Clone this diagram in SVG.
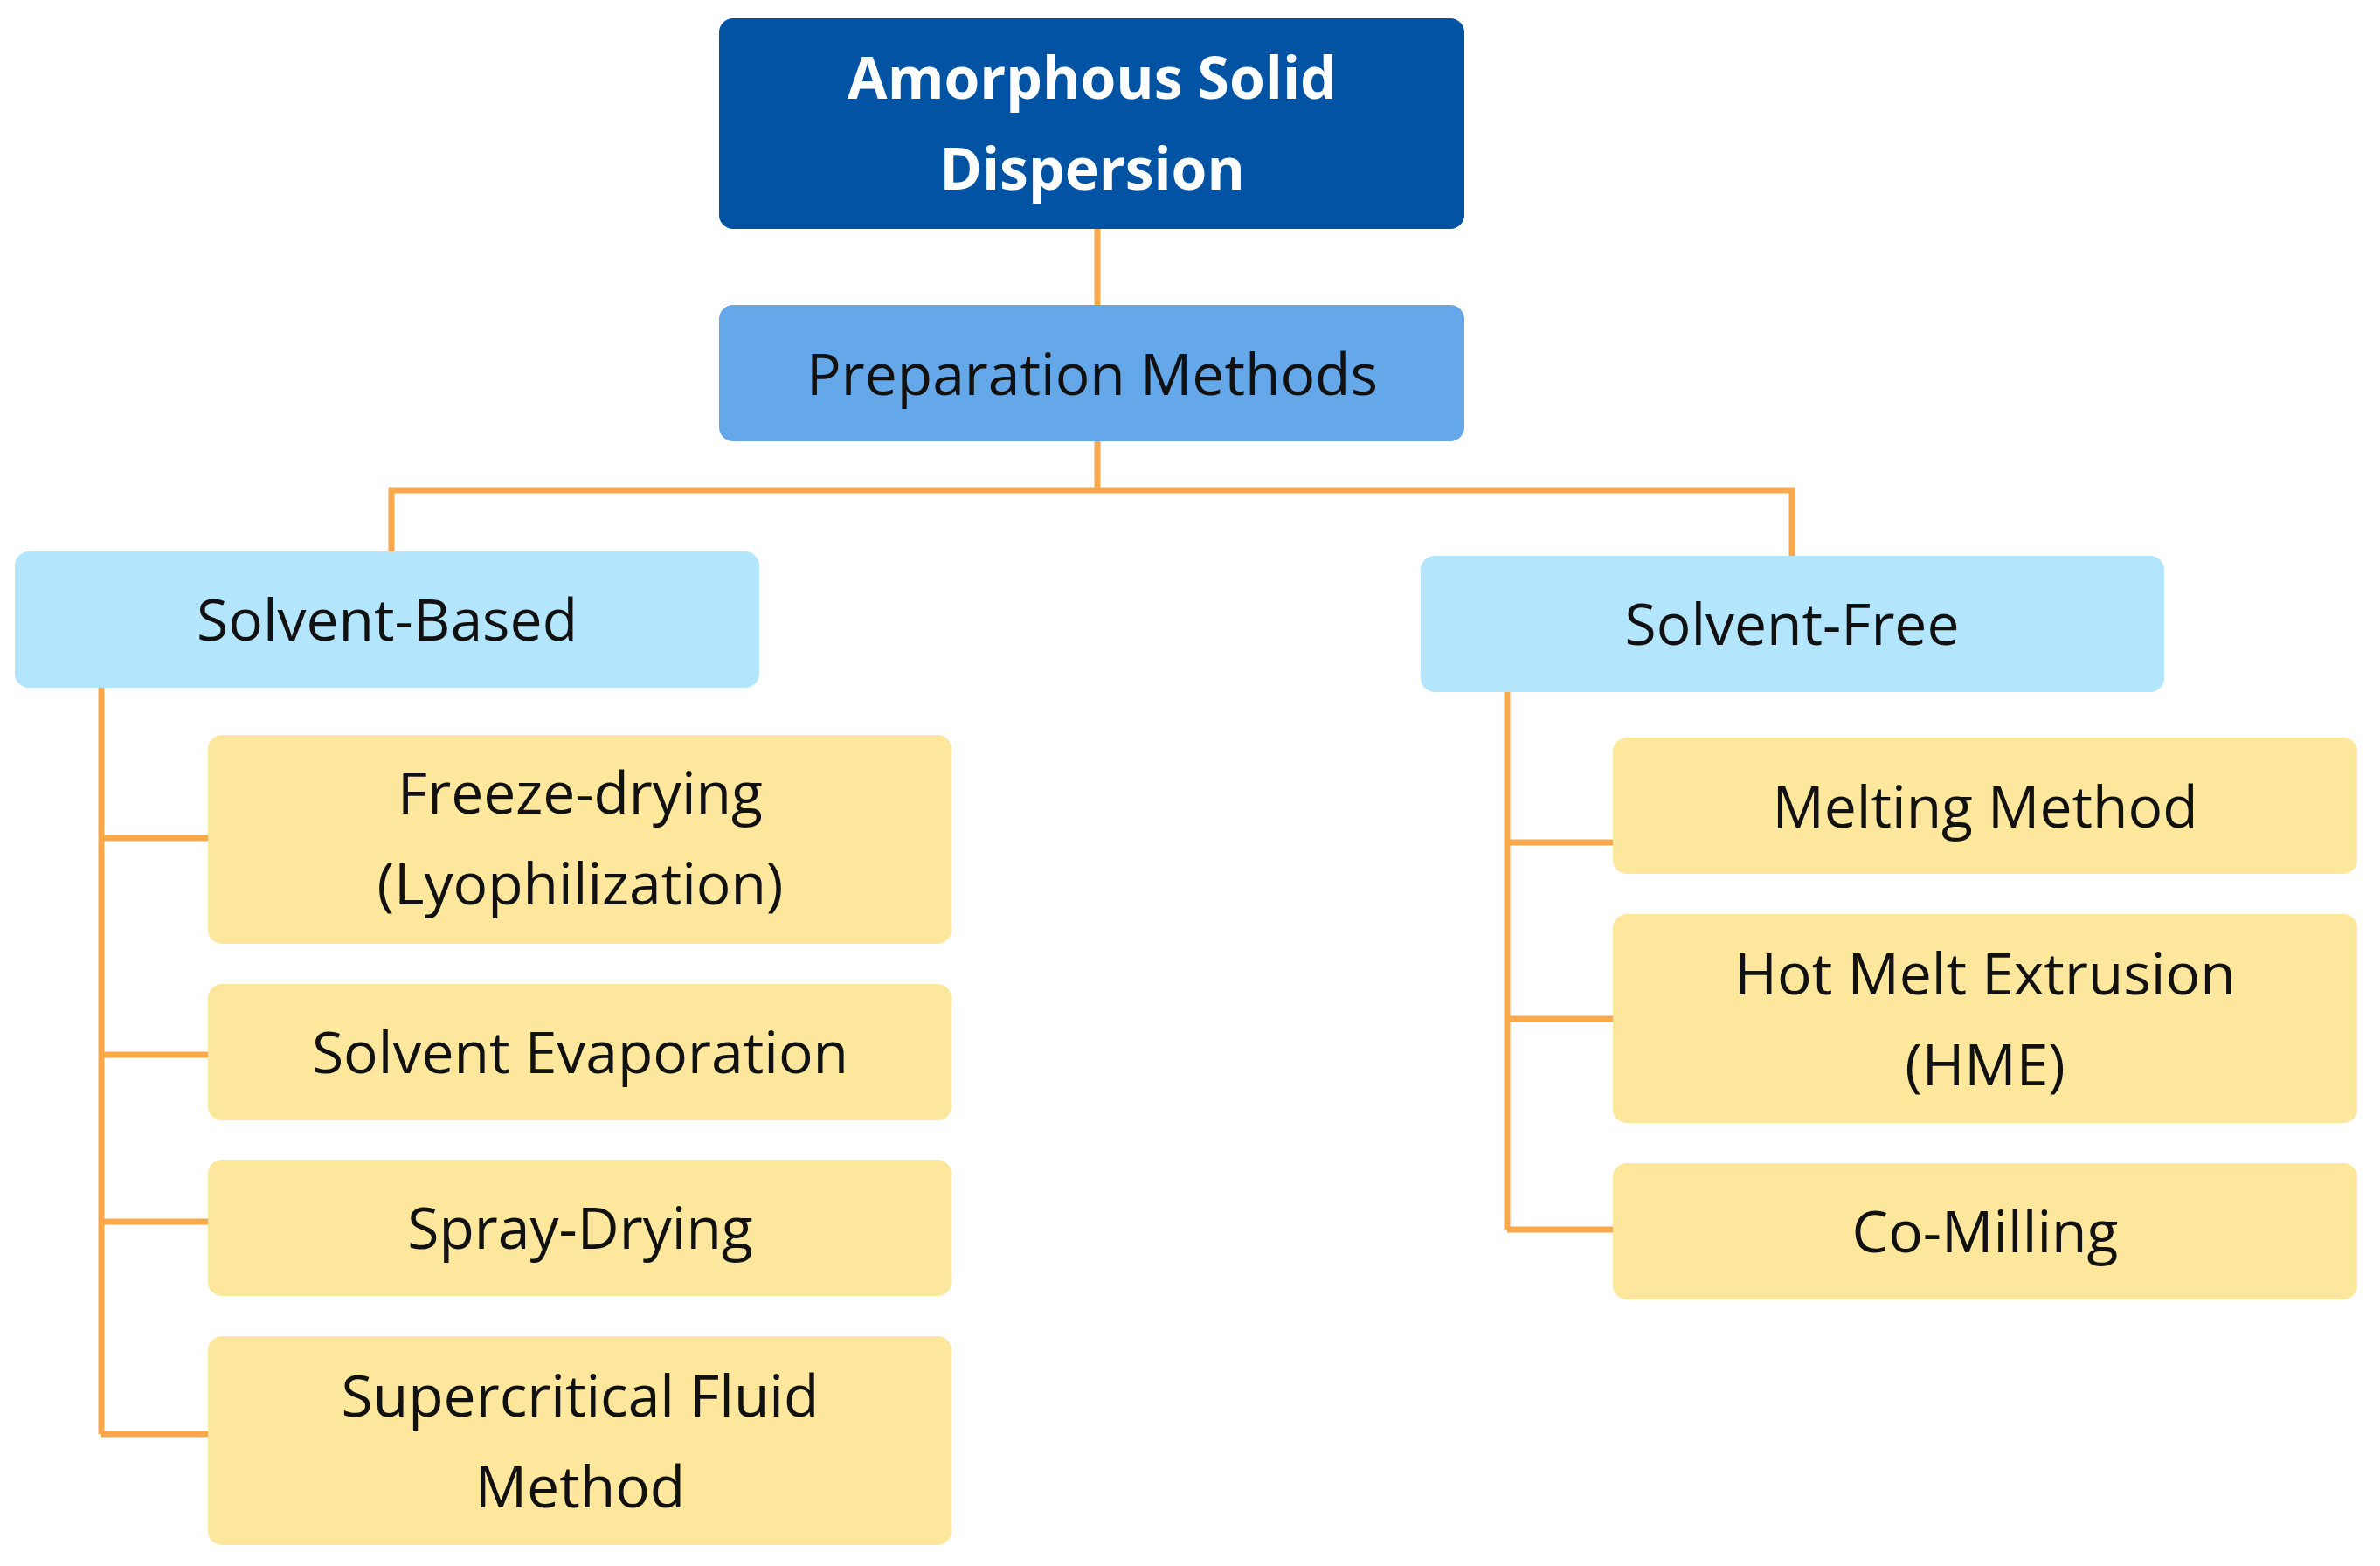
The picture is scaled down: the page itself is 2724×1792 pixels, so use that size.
<svg xmlns="http://www.w3.org/2000/svg" width="2724" height="1792" viewBox="0 0 2724 1792">
<style>
text{font-family:"Open Sans","Liberation Sans",sans-serif;font-size:66px;fill:#111;text-anchor:middle;dominant-baseline:central}
.t{fill:#fff;font-weight:bold}
.c{fill:none;stroke:#F9A94B;stroke-width:7}
.y{fill:#FDE79D}.l{fill:#B3E5FC}
</style>
<rect width="2724" height="1792" fill="#fff"/>
<g id="connectors">
<path class="c" d="M1256 262V349M1256 505V561M448 631V561H2051V636"/>
<path class="c" d="M116 787V1641M116 959H238M116 1207H238M116 1398H238M116 1641H238"/>
<path class="c" d="M1725 792V1407M1725 964H1846M1725 1166H1846M1725 1407H1846"/>
</g>
<g id="root"><rect x="823" y="21" width="853" height="241" rx="16" fill="#0353A4"/><text class="t" x="1250" y="87">Amorphous Solid</text><text class="t" x="1250" y="191">Dispersion</text></g>
<g id="prep"><rect x="823" y="349" width="853" height="156" rx="16" fill="#64A8EA"/><text x="1250" y="426">Preparation Methods</text></g>
<g id="sb"><rect class="l" x="17" y="631" width="852" height="156" rx="16"/><text x="443" y="707">Solvent-Based</text></g>
<g id="sf"><rect class="l" x="1626" y="636" width="851" height="156" rx="16"/><text x="2051" y="712">Solvent-Free</text></g>
<g id="fd"><rect class="y" x="238" y="841" width="851" height="239" rx="16"/><text x="664" y="905">Freeze-drying</text><text x="664" y="1009">(Lyophilization)</text></g>
<g id="se"><rect class="y" x="238" y="1126" width="851" height="156" rx="16"/><text x="664" y="1202">Solvent Evaporation</text></g>
<g id="sd"><rect class="y" x="238" y="1327" width="851" height="156" rx="16"/><text x="664" y="1403">Spray-Drying</text></g>
<g id="sc"><rect class="y" x="238" y="1529" width="851" height="239" rx="16"/><text x="664" y="1595">Supercritical Fluid</text><text x="664" y="1699">Method</text></g>
<g id="mm"><rect class="y" x="1846" y="844" width="852" height="156" rx="16"/><text x="2272" y="921">Melting Method</text></g>
<g id="hme"><rect class="y" x="1846" y="1046" width="852" height="239" rx="16"/><text x="2272" y="1112">Hot Melt Extrusion</text><text x="2272" y="1216">(HME)</text></g>
<g id="cm"><rect class="y" x="1846" y="1331" width="852" height="156" rx="16"/><text x="2272" y="1407">Co-Milling</text></g>
</svg>
